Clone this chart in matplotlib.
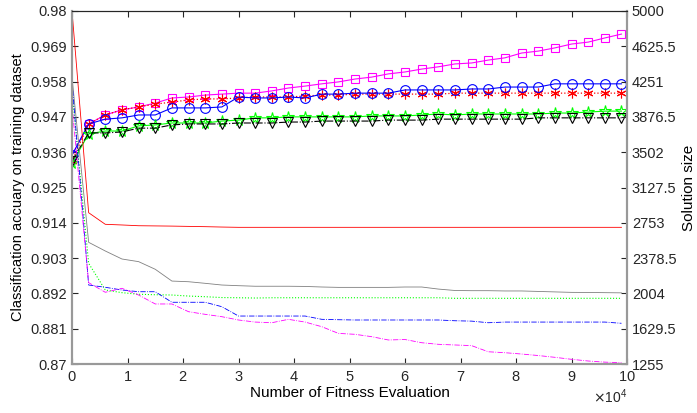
import matplotlib.pyplot as plt
import numpy as np
from matplotlib.ticker import ScalarFormatter

plt.rcParams['font.family'] = ['Liberation Sans', 'DejaVu Sans']

# fitness evaluations (0 .. 99000 step 3000)
evals = [i * 3000 for i in range(34)]

# classification accuracy on training dataset (left axis)
acc_pink = [0.9351, 0.9448, 0.9476, 0.9492, 0.9501, 0.9513, 0.9529, 0.9532, 0.9538, 0.9541,
            0.9544, 0.9544, 0.9551, 0.9560, 0.9566, 0.9573, 0.9579, 0.9588, 0.9594, 0.9604,
            0.9610, 0.9619, 0.9626, 0.9635, 0.9638, 0.9647, 0.9654, 0.9669, 0.9675, 0.9685,
            0.9697, 0.9703, 0.9716, 0.9728]
acc_red = [0.9333, 0.9448, 0.9476, 0.9492, 0.9501, 0.9510, 0.9516, 0.9523, 0.9526, 0.9526,
           0.9529, 0.9532, 0.9532, 0.9532, 0.9535, 0.9538, 0.9538, 0.9541, 0.9541, 0.9541,
           0.9541, 0.9541, 0.9541, 0.9544, 0.9544, 0.9544, 0.9544, 0.9544, 0.9544, 0.9544,
           0.9544, 0.9544, 0.9544, 0.9544]
acc_blue = [0.9351, 0.9448, 0.9463, 0.9467, 0.9476, 0.9476, 0.9498, 0.9498, 0.9498, 0.9501,
            0.9532, 0.9529, 0.9529, 0.9532, 0.9529, 0.9541, 0.9541, 0.9544, 0.9544, 0.9544,
            0.9554, 0.9554, 0.9554, 0.9554, 0.9557, 0.9557, 0.9563, 0.9563, 0.9563, 0.9573,
            0.9573, 0.9573, 0.9573, 0.9573]
acc_green = [0.9326, 0.9417, 0.9426, 0.9426, 0.9442, 0.9445, 0.9451, 0.9451, 0.9451, 0.9457,
             0.9460, 0.9467, 0.9467, 0.9470, 0.9470, 0.9470, 0.9470, 0.9470, 0.9473, 0.9473,
             0.9473, 0.9476, 0.9479, 0.9476, 0.9479, 0.9479, 0.9479, 0.9479, 0.9479, 0.9482,
             0.9482, 0.9485, 0.9488, 0.9488]
acc_black = [0.9333, 0.9420, 0.9420, 0.9423, 0.9435, 0.9435, 0.9445, 0.9448, 0.9448, 0.9448,
             0.9451, 0.9451, 0.9451, 0.9454, 0.9454, 0.9457, 0.9457, 0.9457, 0.9457, 0.9460,
             0.9460, 0.9460, 0.9463, 0.9463, 0.9463, 0.9463, 0.9463, 0.9463, 0.9467, 0.9467,
             0.9467, 0.9467, 0.9467, 0.9467]

# solution size (right axis)
size_red = [5000, 2860, 2737, 2730, 2722, 2720, 2718, 2715, 2712, 2708,
            2705, 2705, 2705, 2705, 2705, 2705, 2705, 2705, 2705, 2705,
            2705, 2705, 2705, 2705, 2705, 2705, 2705, 2705, 2705, 2705,
            2705, 2705, 2705, 2705]
size_gray = [4300, 2546, 2454, 2369, 2341, 2260, 2135, 2128, 2111, 2093,
             2086, 2080, 2080, 2080, 2078, 2072, 2068, 2068, 2068, 2068,
             2072, 2072, 2050, 2035, 2033, 2033, 2030, 2030, 2025, 2020,
             2015, 2014, 2012, 2010]
size_green = [4150, 2323, 2040, 2012, 1995, 1990, 1987, 1976, 1969, 1960,
              1958, 1955, 1958, 1958, 1958, 1958, 1958, 1958, 1958, 1958,
              1958, 1958, 1958, 1952, 1952, 1952, 1952, 1952, 1952, 1952,
              1952, 1952, 1952, 1952]
size_blue = [4250, 2093, 2069, 2040, 2022, 2022, 1910, 1910, 1910, 1863,
             1764, 1764, 1764, 1764, 1764, 1729, 1725, 1722, 1722, 1722,
             1722, 1722, 1722, 1714, 1710, 1693, 1700, 1700, 1700, 1700,
             1700, 1700, 1700, 1687]
size_pink = [4000, 2118, 2016, 2058, 1987, 1892, 1892, 1810, 1782, 1757,
             1722, 1700, 1693, 1729, 1700, 1651, 1580, 1570, 1545, 1510,
             1515, 1481, 1464, 1457, 1450, 1385, 1375, 1361, 1345, 1326,
             1305, 1287, 1275, 1269]

left_ticks = np.round(np.arange(0.87, 0.9801, 0.011), 3)
right_ticks = np.arange(1255, 5000.1, 374.5)

fig = plt.figure(figsize=(6.97, 4.13), dpi=100)
ax = fig.add_axes([0.1033, 0.1186, 0.7963, 0.8548])
ax2 = ax.twinx()

asterisk = (6, 2, 0)
ax.plot(evals, acc_pink, '-', color='#ff00ff', lw=0.8, marker='s', ms=6, mfc='none', mew=0.8)
ax.plot(evals, acc_red, ':', color='#ff0000', lw=0.9, marker=asterisk, ms=7, mew=0.8)
ax.plot(evals, acc_blue, '-', color='#0000ff', lw=0.8, marker='o', ms=7, mfc='none', mew=0.8)
ax.plot(evals, acc_green, '-', color='#00ff00', lw=0.8, marker='*', ms=8.5, mfc='none', mew=0.8)
ax.plot(evals, acc_black, '-.', color='#000000', lw=0.8, marker='v', ms=6.5, mfc='none', mew=0.8)

ax2.plot(evals, size_red, '-', color='#ff0000', lw=0.6)
ax2.plot(evals, size_gray, '-', color='#808080', lw=0.6)
ax2.plot(evals, size_green, ':', color='#00ff00', lw=0.8)
ax2.plot(evals, size_blue, '-.', color='#0000ff', lw=0.6)
ax2.plot(evals, size_pink, '-.', color='#ff00ff', lw=0.6)

ax.set_xlim(0, 100000)
ax.set_ylim(0.87, 0.98)
ax2.set_ylim(1255, 5000)
ax.set_xticks(np.arange(0, 100001, 10000))
ax.set_yticks(left_ticks)
ax.set_yticklabels(['%g' % v for v in left_ticks])
ax2.set_yticks(right_ticks)
ax2.set_yticklabels(['%g' % v for v in right_ticks])

fmt = ScalarFormatter(useMathText=True)
fmt.set_powerlimits((4, 4))
ax.xaxis.set_major_formatter(fmt)
ax.xaxis.get_offset_text().set_fontsize(10)

ax.tick_params(axis='x', direction='in', top=True, labelsize=10.5, length=4, colors='#262626', pad=4)
ax.tick_params(axis='y', direction='in', labelsize=10.5, length=4, colors='#262626')
ax2.tick_params(axis='y', direction='in', labelsize=10.5, length=4, colors='#262626')

for a in (ax, ax2):
    for s in ('left', 'bottom', 'right'):
        a.spines[s].set_color('#999999')
        a.spines[s].set_linewidth(1.5)
    a.spines['top'].set_color('#262626')
    a.spines['top'].set_linewidth(0.8)

ax.set_xlabel('Number of Fitness Evaluation', fontsize=11, labelpad=2)
ax.set_ylabel('Classification accuary on training dataset', fontsize=10.5)
ax2.set_ylabel('Solution size', fontsize=11)

fig.savefig('out.png', dpi=100)
